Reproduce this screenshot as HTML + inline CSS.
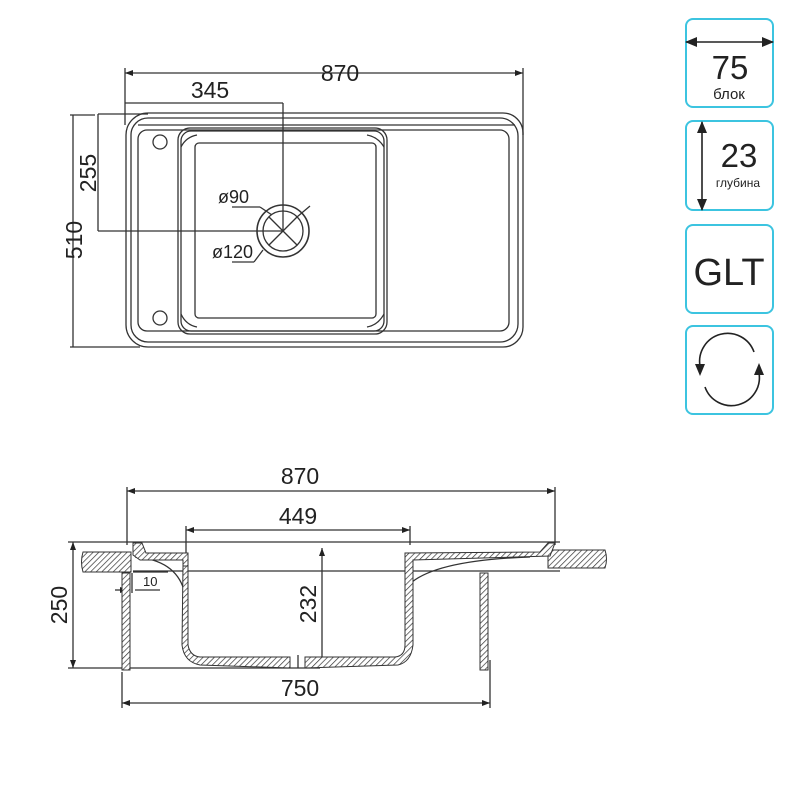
<!DOCTYPE html>
<html><head><meta charset="utf-8"><style>
body{margin:0;background:#fff;width:800px;height:788px;overflow:hidden}
svg{display:block}
text{font-family:"Liberation Sans",sans-serif;fill:#222}
</style></head><body>
<svg width="800" height="788" viewBox="0 0 800 788" xmlns="http://www.w3.org/2000/svg">
<defs>
<pattern id="h" width="4" height="4" patternUnits="userSpaceOnUse" patternTransform="rotate(45)">
<rect width="4" height="4" fill="#fff"/><line x1="0" y1="0" x2="0" y2="4" stroke="#333" stroke-width="1.4"/></pattern>
<marker id="a" markerWidth="8" markerHeight="6" refX="8" refY="3" orient="auto-start-reverse" markerUnits="userSpaceOnUse"><path d="M0,0 L8,3 L0,6z" fill="#222"/></marker>
<marker id="b" markerWidth="12" markerHeight="10" refX="11" refY="5" orient="auto-start-reverse" markerUnits="userSpaceOnUse"><path d="M0,0 L12,5 L0,10z" fill="#222"/></marker>
</defs>
<g fill="none" stroke="#333" stroke-width="1.3">
<line x1="125" y1="73" x2="523" y2="73" marker-start="url(#a)" marker-end="url(#a)"/>
<line x1="125" y1="68" x2="125" y2="125"/><line x1="523" y1="68" x2="523" y2="135"/>
<line x1="125" y1="103" x2="283" y2="103"/><line x1="283" y1="103" x2="283" y2="231"/>
<line x1="98" y1="114" x2="148" y2="114"/><line x1="98" y1="114" x2="98" y2="231"/><line x1="98" y1="231" x2="283" y2="231"/>
<line x1="73" y1="115" x2="73" y2="347"/><line x1="70" y1="347" x2="140" y2="347"/><line x1="70" y1="115" x2="95" y2="115"/>
<path d="M148,113 H503 A20,20 0 0 1 523,133 V327 A20,20 0 0 1 503,347 H148 A22,22 0 0 1 126,325 V135 A22,22 0 0 1 148,113Z"/>
<path d="M148,118 H500 A18,18 0 0 1 518,136 V324 A18,18 0 0 1 500,342 H148 A17,17 0 0 1 131,325 V135 A17,17 0 0 1 148,118Z"/>
<path d="M147,130 H500 A9,9 0 0 1 509,139 V322 A9,9 0 0 1 500,331 H147 A9,9 0 0 1 138,322 V139 A9,9 0 0 1 147,130Z"/>
<line x1="138" y1="125" x2="515" y2="125"/>
<circle cx="160" cy="142" r="7"/><circle cx="160" cy="318" r="7"/>
<rect x="178" y="128" width="209" height="206" rx="12"/>
<rect x="181" y="131" width="203" height="200" rx="10"/>
<rect x="195" y="143" width="181" height="175" rx="4"/>
<path d="M181,147 Q186,137 197,135"/><path d="M384,147 Q378,137 367,135"/><path d="M181,314 Q186,325 197,327"/><path d="M384,314 Q378,325 367,327"/>
<circle cx="283" cy="231" r="26" stroke-width="1.6"/><circle cx="283" cy="231" r="20"/>
<line x1="269" y1="217" x2="297" y2="245"/><line x1="297" y1="217" x2="269" y2="245"/>
<line x1="297" y1="217" x2="310" y2="206"/>
<line x1="232" y1="207" x2="260" y2="207"/><line x1="260" y1="207" x2="272" y2="215"/>
<line x1="232" y1="262" x2="254" y2="262"/><line x1="254" y1="262" x2="263" y2="250"/>
</g>
<text x="340" y="81" font-size="23" text-anchor="middle">870</text>
<text x="210" y="98" font-size="23" text-anchor="middle">345</text>
<text font-size="23" text-anchor="middle" transform="translate(96,173) rotate(-90)">255</text>
<text font-size="23" text-anchor="middle" transform="translate(82,240) rotate(-90)">510</text>
<text x="218" y="203" font-size="18">ø90</text>
<text x="212" y="258" font-size="18">ø120</text>

<g fill="none" stroke="#333" stroke-width="1.3">
<line x1="127" y1="491" x2="555" y2="491" marker-start="url(#a)" marker-end="url(#a)"/>
<line x1="127" y1="487" x2="127" y2="545"/><line x1="555" y1="487" x2="555" y2="545"/>
<line x1="186" y1="530" x2="410" y2="530" marker-start="url(#a)" marker-end="url(#a)"/>
<line x1="186" y1="526" x2="186" y2="560"/><line x1="410" y1="526" x2="410" y2="545"/>
<line x1="73" y1="542" x2="73" y2="668" marker-start="url(#a)" marker-end="url(#a)"/>
<line x1="68" y1="542" x2="560" y2="542"/>
<line x1="68" y1="668" x2="320" y2="668"/>
<line x1="322" y1="548" x2="322" y2="665" marker-start="url(#a)" marker-end="url(#a)"/>
<line x1="122" y1="703" x2="490" y2="703" marker-start="url(#a)" marker-end="url(#a)"/>
<line x1="122" y1="672" x2="122" y2="708"/><line x1="490" y1="660" x2="490" y2="708"/>
<line x1="115" y1="590" x2="128" y2="590" marker-end="url(#a)"/><line x1="135" y1="590" x2="160" y2="590"/><line x1="133" y1="572" x2="168" y2="572"/>
<line x1="132" y1="573" x2="132" y2="593"/>
<line x1="133" y1="571" x2="560" y2="571"/>
<path d="M135,557 Q175,560 184,590"/>
<path d="M412,582 Q440,560 530,557"/>
<line x1="298" y1="655" x2="298" y2="668"/>
</g>
<g fill="url(#h)" stroke="#333" stroke-width="1">
<path d="M83,552 H131 V572 H83 Q80,562 83,552Z"/>
<path d="M548,550 H605 Q608,559 605,568 H548Z"/>
<rect x="122" y="573" width="8" height="97"/>
<rect x="480" y="573" width="8" height="97"/>
<path d="M133,543 L142,543 L146,553 L188,553 L188,566 L183,566 L183,560 L140,560 L133,555Z"/>
<path d="M183,566 L188,566 L188,645 Q190,656 200,657 L290,657 L290,668 L200,665 Q184,662 182,645Z"/>
<path d="M305,657 L395,657 Q405,656 405,645 L405,553 L540,552 L548,543 L555,543 L550,556 L413,560 L413,645 Q411,662 398,665 L305,668Z"/>
</g>
<text x="300" y="484" font-size="23" text-anchor="middle">870</text>
<text x="298" y="524" font-size="23" text-anchor="middle">449</text>
<text x="300" y="696" font-size="23" text-anchor="middle">750</text>
<text font-size="23" text-anchor="middle" transform="translate(316,604) rotate(-90)">232</text>
<text font-size="23" text-anchor="middle" transform="translate(67,605) rotate(-90)">250</text>
<text x="143" y="586" font-size="13">10</text>

<g fill="none" stroke="#3cc4e0" stroke-width="2">
<rect x="686" y="19" width="87" height="88" rx="7"/>
<rect x="686" y="121" width="87" height="89" rx="7"/>
<rect x="686" y="225" width="87" height="88" rx="7"/>
<rect x="686" y="326" width="87" height="88" rx="7"/>
</g>
<g stroke="#222" stroke-width="1.6" fill="none">
<line x1="686" y1="42" x2="773" y2="42" marker-start="url(#b)" marker-end="url(#b)"/>
<line x1="702" y1="122" x2="702" y2="210" marker-start="url(#b)" marker-end="url(#b)"/>
<path d="M700,366 A28,28 0 0 1 754,352"/>
<path d="M759,373 A28,28 0 0 1 705,387"/>
</g>
<path d="M695,364 L705,364 L700,376Z" fill="#222"/>
<path d="M754,375 L764,375 L759,363Z" fill="#222"/>
<text x="730" y="79" font-size="33" text-anchor="middle">75</text>
<text x="729" y="99" font-size="15" text-anchor="middle">блок</text>
<text x="739" y="167" font-size="33" text-anchor="middle">23</text>
<text x="738" y="187" font-size="12" text-anchor="middle">глубина</text>
<text x="729" y="285" font-size="38" text-anchor="middle">GLT</text>
</svg>
</body></html>
